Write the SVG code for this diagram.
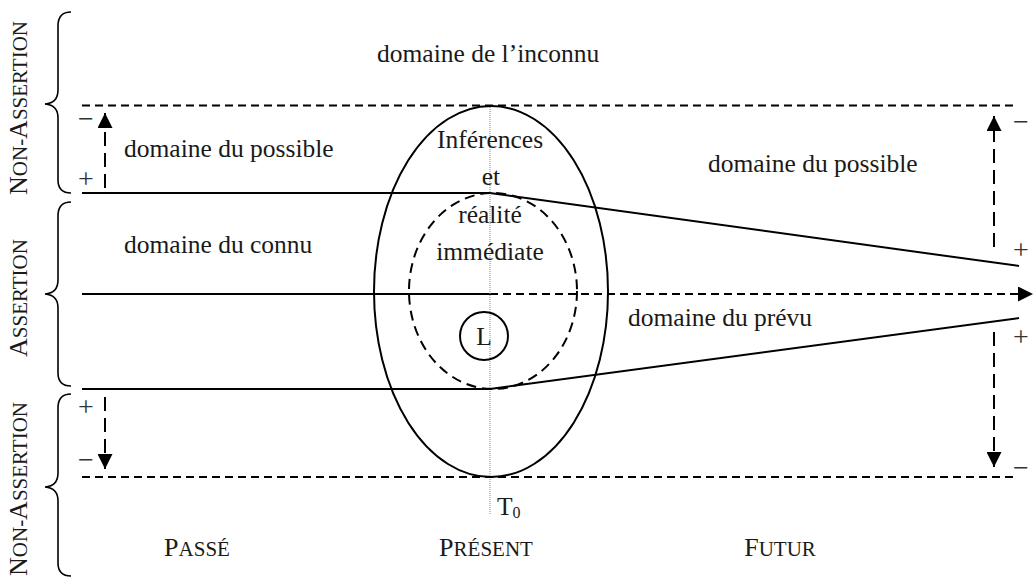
<svg xmlns="http://www.w3.org/2000/svg" width="1033" height="578" viewBox="0 0 1033 578" font-family="'Liberation Serif', 'DejaVu Serif', serif">
<style>
text{font-family:"Liberation Serif","DejaVu Serif",serif;fill:#1a1a1a}
.t{font-size:25.5px}
.sg{font-size:28px;text-anchor:middle;fill:#333}
.sc{font-size:26px}
.sm{font-size:21px}
.solid{stroke:#000;stroke-width:2;fill:none}
.dash{stroke:#000;stroke-width:2;fill:none;stroke-dasharray:8 5}
.adash{stroke:#000;stroke-width:2;fill:none;stroke-dasharray:14 7}
.brace{stroke:#000;stroke-width:1.6;fill:none}
</style>
<defs>
<marker id="ah" viewBox="0 0 10 10" refX="10" refY="5" markerWidth="15" markerHeight="15" markerUnits="userSpaceOnUse" orient="auto">
<path d="M0,0 L10,5 L0,10 Z" fill="#000"/>
</marker>
</defs>
<rect width="1033" height="578" fill="#fff"/>

<g id="braces">
<path class="brace" d="M71,12 Q58,12 58,26 L58,90 Q58,103 45,104 Q58,105 58,118 L58,180 Q58,193 71,193"/>
<path class="brace" d="M71,202 Q58,202 58,216 L58,280 Q58,293 45,294 Q58,295 58,308 L58,373 Q58,386 71,386"/>
<path class="brace" d="M71,394 Q58,394 58,408 L58,473 Q58,486 45,487 Q58,488 58,501 L58,563 Q58,576 71,576"/>
</g>

<g id="side-labels">
<text transform="translate(27,108) rotate(-90)" text-anchor="middle"><tspan class="sc">N</tspan><tspan class="sm">ON-</tspan><tspan class="sc">A</tspan><tspan class="sm">SSERTION</tspan></text>
<text transform="translate(27,298) rotate(-90)" text-anchor="middle"><tspan class="sc">A</tspan><tspan class="sm">SSERTION</tspan></text>
<text transform="translate(27,489) rotate(-90)" text-anchor="middle"><tspan class="sc">N</tspan><tspan class="sm">ON-</tspan><tspan class="sc">A</tspan><tspan class="sm">SSERTION</tspan></text>
</g>

<g id="connectors">
<line class="dash" x1="82" y1="105.5" x2="1016" y2="105.5"/>
<line class="dash" x1="82" y1="477" x2="1016" y2="477"/>
<polyline class="solid" points="82,193 490,193 1019,266"/>
<polyline class="solid" points="82,389 490,389 1019,318"/>
<line class="solid" x1="82" y1="294" x2="490" y2="294"/>
<line class="dash" x1="490" y1="294" x2="1033" y2="294" marker-end="url(#ah)"/>
<line x1="490" y1="105" x2="490" y2="514" stroke="#888" stroke-width="1" stroke-dasharray="1 1"/>
<line class="adash" x1="105" y1="188" x2="105" y2="113" marker-end="url(#ah)"/>
<line class="adash" x1="105" y1="397" x2="105" y2="469" marker-end="url(#ah)"/>
<line class="adash" x1="994" y1="247" x2="994" y2="116" marker-end="url(#ah)"/>
<line class="adash" x1="994" y1="332" x2="994" y2="467" marker-end="url(#ah)"/>
</g>

<g id="present">
<ellipse class="solid" cx="491" cy="291.5" rx="117" ry="185.5"/>
<ellipse class="solid" cx="493" cy="291" rx="84" ry="98" stroke-dasharray="10 6"/>
</g>

<g id="locuteur">
<circle class="solid" cx="484" cy="336" r="24"/>
<text class="t" x="484" y="345" text-anchor="middle">L</text>
</g>

<g id="labels">
<text class="t" x="377" y="62">domaine de l’inconnu</text>
<text class="t" x="124" y="157">domaine du possible</text>
<text class="t" x="708" y="172">domaine du possible</text>
<text class="t" x="124" y="253">domaine du connu</text>
<text class="t" x="628" y="326">domaine du prévu</text>
<text class="t" x="490" y="148" text-anchor="middle">Inférences</text>
<text class="t" x="491" y="185" text-anchor="middle">et</text>
<text class="t" x="490" y="223" text-anchor="middle">réalité</text>
<text class="t" x="490" y="260" text-anchor="middle">immédiate</text>
<text x="497" y="515"><tspan class="t">T</tspan><tspan font-size="16px" dy="3">0</tspan></text>
<text x="197" y="556" text-anchor="middle"><tspan class="sc">P</tspan><tspan class="sm">ASSÉ</tspan></text>
<text x="486" y="556" text-anchor="middle"><tspan class="sc">P</tspan><tspan class="sm">RÉSENT</tspan></text>
<text x="780" y="556" text-anchor="middle"><tspan class="sc">F</tspan><tspan class="sm">UTUR</tspan></text>
</g>

<g id="signs">
<text class="sg" x="86" y="128">−</text>
<text class="sg" x="86" y="188">+</text>
<text class="sg" x="86" y="416">+</text>
<text class="sg" x="86" y="469">−</text>
<text class="sg" x="1021" y="131">−</text>
<text class="sg" x="1021" y="259">+</text>
<text class="sg" x="1021" y="346">+</text>
<text class="sg" x="1021" y="477">−</text>
</g>
</svg>
